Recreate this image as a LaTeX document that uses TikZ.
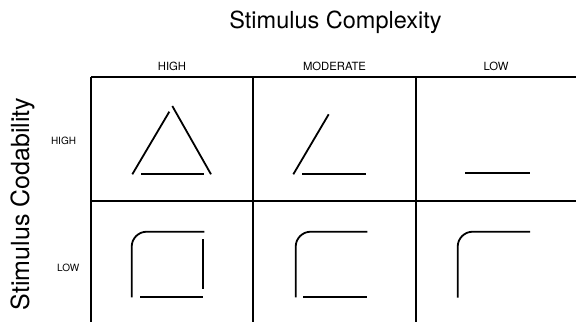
\documentclass[tikz,border=0pt]{standalone}
\usepackage{fontspec}
\setmainfont{TeX Gyre Heros}
\usepackage{tikz}
\usetikzlibrary{positioning}

\begin{document}
\begin{tikzpicture}[x=1pt, y=-1pt]
\tikzstyle{heading} = [inner sep=0pt, anchor=base, font=\fontsize{23.5}{28}\selectfont]
\tikzstyle{colhead} = [inner sep=0pt, anchor=base, font=\fontsize{11.3}{13}\selectfont]
\tikzstyle{rowhead} = [inner sep=0pt, anchor=base, font=\fontsize{10}{12}\selectfont]
\tikzstyle{grid} = [line width=1.5pt]
\tikzstyle{stroke} = [line width=1.8pt]

\useasboundingbox (0,0) rectangle (576,322);

% titles
\node (Complexity) [heading] at (335.5,28.3) {Stimulus Complexity};
\node (Codability) [heading, font=\fontsize{25}{30}\selectfont, rotate=90] at (29,204) {Stimulus Codability};

% column and row headings
\node (ColHigh) [colhead] at (172,70.3) {HIGH};
\node (ColModerate) [colhead] at (334.5,70.3) {MODERATE};
\node (ColLow) [colhead] at (496,70.3) {LOW};
\node (RowHigh) [rowhead] at (63.5,144) {HIGH};
\node (RowLow) [rowhead] at (68.3,271.3) {LOW};

% table lines
\draw [grid] (91,77) -- (576,77);
\draw [grid] (91,201) -- (576,201);
\foreach \x in {91,253,416}
  \draw [grid] (\x,77) -- (\x,322);

% high codability
\draw [stroke] (132.3,174.3) -- (169.3,111.7);
\draw [stroke] (172.3,106) -- (211,174.3);
\draw [stroke] (141,173.7) -- (204.3,173.7);
\draw [stroke] (293.3,174.3) -- (328.7,114.3);
\draw [stroke] (302,173.7) -- (366,173.7);
\draw [stroke] (465,173.3) -- (530,173.3);

% low codability
\draw [stroke, rounded corners=15pt] (131.7,297.3) -- (131.7,231.7) -- (204.3,231.7);
\draw [stroke] (203.3,239) -- (203.3,289.3);
\draw [stroke] (140,297) -- (203.3,297);
\draw [stroke, rounded corners=15pt] (295.7,297.3) -- (295.7,231.7) -- (367.3,231.7);
\draw [stroke] (303.3,296.7) -- (367.3,296.7);
\draw [stroke, rounded corners=15pt] (457.7,297.7) -- (457.7,231.7) -- (530,231.7);
\end{tikzpicture}
\end{document}
